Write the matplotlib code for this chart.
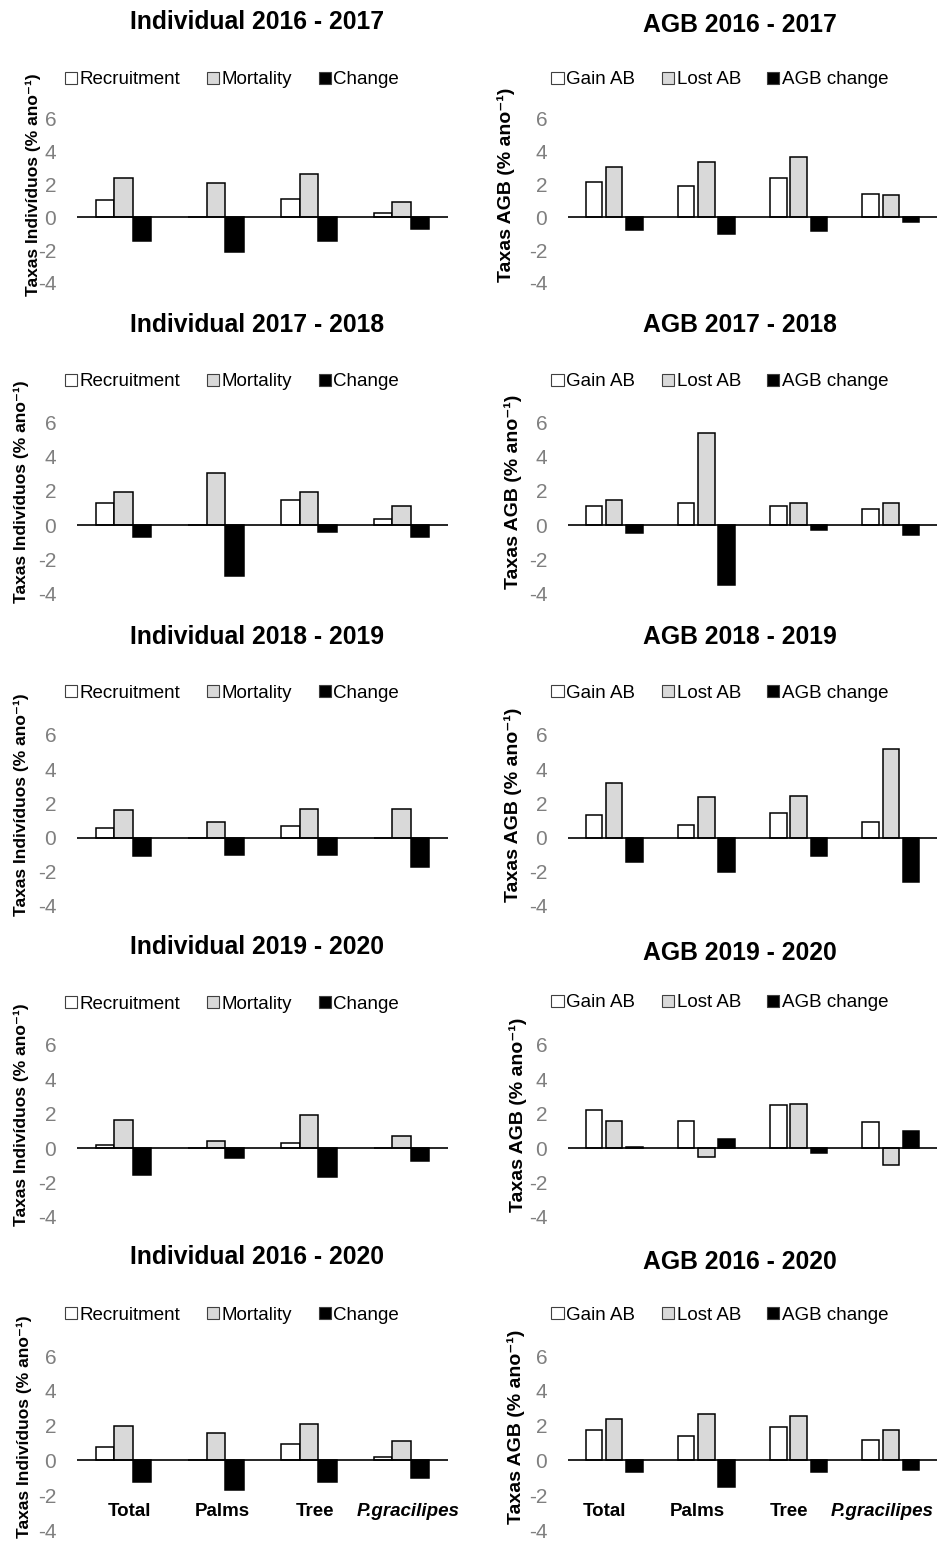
import matplotlib
matplotlib.use("Agg")
import matplotlib.pyplot as plt
from matplotlib.patches import Patch
import numpy as np

plt.rcParams['font.family'] = ['Liberation Sans', 'DejaVu Sans']
plt.rcParams['axes.unicode_minus'] = False

# categorias (eixo x)
categories = ["Total", "Palms", "Tree", "P.gracilipes"]

# Individuos: recrutamento, mortalidade, mudanca (% ano-1)
ind_periods = ["2016 - 2017", "2017 - 2018", "2018 - 2019", "2019 - 2020", "2016 - 2020"]
ind_recruitment = [
    [1.04, 0.0, 1.14, 0.27],
    [1.32, 0.0, 1.48, 0.35],
    [0.55, 0.0, 0.65, 0.0],
    [0.18, 0.0, 0.28, 0.0],
    [0.75, 0.0, 0.94, 0.20],
]
ind_mortality = [
    [2.38, 2.11, 2.63, 0.95],
    [1.95, 3.07, 1.95, 1.10],
    [1.60, 0.93, 1.68, 1.68],
    [1.65, 0.43, 1.95, 0.73],
    [1.97, 1.57, 2.07, 1.12],
]
ind_change = [
    [-1.45, -2.11, -1.45, -0.68],
    [-0.69, -3.01, -0.39, -0.69],
    [-1.07, -0.99, -0.99, -1.72],
    [-1.57, -0.55, -1.67, -0.73],
    [-1.24, -1.71, -1.24, -1.04],
]

# AGB: ganho, perda, mudanca (% ano-1)
agb_periods = ["2016 - 2017", "2017 - 2018", "2018 - 2019", "2019 - 2020", "2016 - 2020"]
agb_gain = [
    [2.13, 1.93, 2.42, 1.45],
    [1.09, 1.29, 1.09, 0.92],
    [1.33, 0.75, 1.41, 0.93],
    [2.20, 1.56, 2.50, 1.54],
    [1.74, 1.39, 1.93, 1.20],
]
agb_lost = [
    [3.10, 3.40, 3.69, 1.35],
    [1.46, 5.43, 1.31, 1.29],
    [3.19, 2.36, 2.46, 5.17],
    [1.56, -0.51, 2.58, -0.98],
    [2.38, 2.67, 2.57, 1.74],
]
agb_change = [
    [-0.77, -1.04, -0.83, -0.27],
    [-0.49, -3.55, -0.31, -0.59],
    [-1.43, -2.02, -1.07, -2.57],
    [0.08, 0.55, -0.26, 1.02],
    [-0.68, -1.51, -0.68, -0.58],
]

yticks = [-4, -2, 0, 2, 4, 6]

W, H = 939, 1541
fig = plt.figure(figsize=(W / 100, H / 100), dpi=100)

# posicoes em pixels de cada linha: (titulo, legenda, y=6, y=-4)
rows_left = [(22, 80, 119, 283), (325, 382, 423, 593), (637, 693, 735, 906),
             (947, 1004, 1045, 1217), (1257, 1315, 1356, 1530)]
rows_right = [(25, 80, 119, 283), (325, 382, 423, 593), (637, 693, 735, 906),
              (953, 1003, 1045, 1217), (1262, 1315, 1356, 1530)]
ylab_left_x = [33, 21, 21, 21, 24]
ylab_right_x = [506, 513, 513, 518, 516]

GRAY = "#d9d9d9"


def fx(px):
    return px / W


def fy(py):
    return 1 - py / H


def draw_panel(x0, width, row, series, labels, offsets, bw, title, title_x,
               leg_x, ylab, ylab_x, ylab_size, show_cats, cat_shift):
    t_y, l_y, y6, ym4 = row
    ax = fig.add_axes([fx(x0), fy(ym4), width / W, (ym4 - y6) / H])
    x = np.arange(len(categories))
    colors = ["white", GRAY, "black"]
    for vals, off, c in zip(series, offsets, colors):
        ax.bar(x + off, vals, bw, color=c, edgecolor="black", linewidth=1.1, zorder=2)
    ax.axhline(0, color="black", linewidth=1.2, zorder=3)
    ax.set_xlim(-0.5, len(categories) - 0.5)
    ax.set_ylim(-4, 6)
    ax.set_yticks(yticks)
    ax.tick_params(axis="y", length=0, pad=15, labelsize=15, labelcolor="#7f7f7f")
    ax.set_xticks([])
    for s in ax.spines.values():
        s.set_visible(False)
    ax.patch.set_alpha(0)

    if show_cats:
        for i, cat in enumerate(categories):
            style = "italic" if cat.startswith("P.") else "normal"
            ax.text(x[i] + cat_shift, -2.95, cat, ha="center", va="center",
                    fontsize=13.5, fontweight="bold", fontstyle=style)

    fig.text(fx(title_x), fy(t_y), title, ha="center", va="center",
             fontsize=17.8, fontweight="bold")
    handles = [Patch(facecolor=c, edgecolor="#404040", linewidth=0.8) for c in colors]
    fig.legend(handles, labels, loc="center", bbox_to_anchor=(fx(leg_x), fy(l_y)),
               ncol=3, frameon=False, fontsize=13.5, handlelength=0.65,
               handleheight=0.65, handletextpad=0.15, columnspacing=1.4)
    fig.text(fx(ylab_x), fy((y6 + ym4) / 2 - 16), ylab, rotation=90, ha="center",
             va="center", fontsize=ylab_size, fontweight="bold")


for i in range(5):
    draw_panel(77, 371, rows_left[i],
               [ind_recruitment[i], ind_mortality[i], ind_change[i]],
               ["Recruitment", "Mortality", "Change"],
               [-0.2, 0.0, 0.2], 0.2,
               "Individual " + ind_periods[i], 257, 232,
               "Taxas Indivíduos (% ano⁻¹)", ylab_left_x[i], 12.5, i == 4, 0.07)
    draw_panel(568, 369, rows_right[i],
               [agb_gain[i], agb_lost[i], agb_change[i]],
               ["Gain AB", "Lost AB", "AGB change"],
               [-0.22, 0.0, 0.22], 0.18,
               "AGB " + agb_periods[i], 740, 720,
               "Taxas AGB (% ano⁻¹)", ylab_right_x[i], 14, i == 4, -0.1)

fig.savefig("out.png", dpi=100, facecolor="white")
